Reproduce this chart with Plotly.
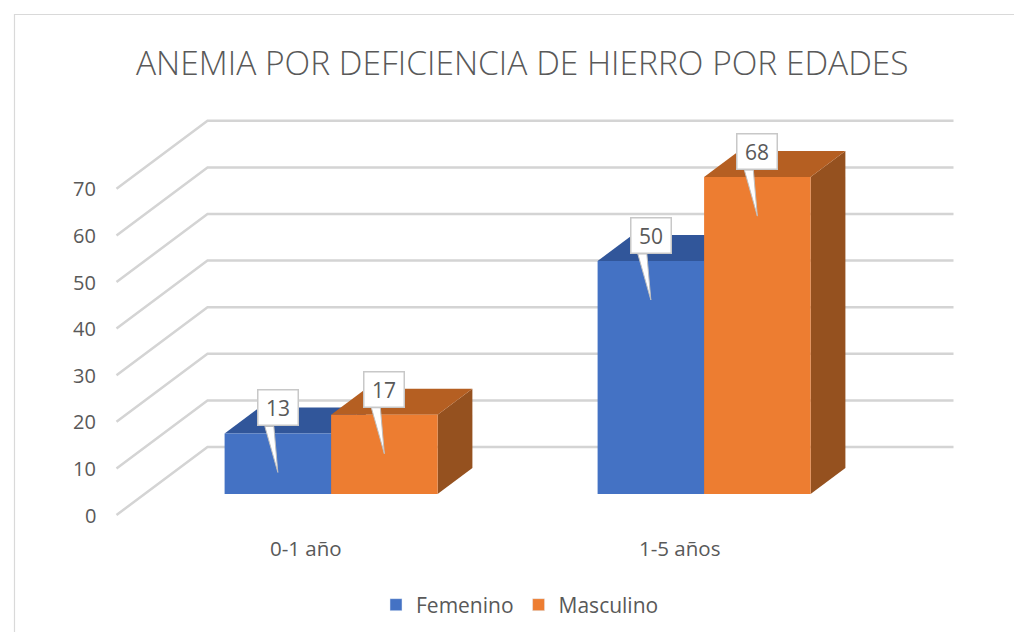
import plotly.graph_objects as go

# ---------------- data ----------------
categories = ["0-1 año", "1-5 años"]
series_names = ["Femenino", "Masculino"]
femenino = [13, 50]
masculino = [17, 68]
y_ticks = [0, 10, 20, 30, 40, 50, 60, 70]
title_text = "ANEMIA POR DEFICIENCIA DE HIERRO POR EDADES"

front_colors = ["#4472C4", "#ED7D31"]
top_colors = ["#31569A", "#B55F22"]
side_colors = ["#2A4A85", "#95511F"]
TEXT = "#595959"
GRID = "#D4D4D4"

# ---------------- projection (oblique 3D) ----------------
W, H = 1014, 632
CAT_PX = 373.0      # pixels per category unit
VAL_PX = 4.66       # pixels per value unit
ORIGIN_X = 303.0    # pixel x of category 0 at front of floor
ORIGIN_Y = 515.0    # pixel y of value 0 at front of floor
DEPTH_DX = 91 / CAT_PX
DEPTH_DY = 68 / VAL_PX
BAR_D0 = 21 / 68
BAR_D1 = 47 / 68
BAR_W = 106.5 / CAT_PX


def px2x(d):
    return d / CAT_PX


def px2y(d):
    return d / VAL_PX


def proj(x, v, d):
    return x + d * DEPTH_DX, v + d * DEPTH_DY


fig = go.Figure()

# ---------------- gridlines ----------------
gx, gy = [], []
x_left, x_right = -0.5, len(categories) - 0.5
for t in y_ticks:
    a = proj(x_left, t, 0)
    b = proj(x_left, t, 1)
    c = proj(x_right, t, 1)
    gx += [a[0], b[0], c[0], None]
    gy += [a[1], b[1], c[1], None]
fig.add_trace(go.Scatter(x=gx, y=gy, mode="lines",
                         line=dict(color=GRID, width=2.5),
                         hoverinfo="skip", showlegend=False))


def poly(pts, color, line_color=None, lw=0):
    xs = [p[0] for p in pts] + [pts[0][0]]
    ys = [p[1] for p in pts] + [pts[0][1]]
    fig.add_trace(go.Scatter(x=xs, y=ys, mode="lines", fill="toself",
                             fillcolor=color,
                             line=dict(color=line_color or color, width=lw),
                             hoverinfo="skip", showlegend=False))


# ---------------- bars ----------------
series = [femenino, masculino]
labels = []
for i, _cat in enumerate(categories):
    for s, vals in enumerate(series):
        v = vals[i]
        x0 = i - BAR_W if s == 0 else i
        x1 = x0 + BAR_W
        side = [proj(x1, 0, BAR_D0), proj(x1, v, BAR_D0),
                proj(x1, v, BAR_D1), proj(x1, 0, BAR_D1)]
        top = [proj(x0, v, BAR_D0), proj(x1, v, BAR_D0),
               proj(x1, v, BAR_D1), proj(x0, v, BAR_D1)]
        front = [proj(x0, 0, BAR_D0), proj(x1, 0, BAR_D0),
                 proj(x1, v, BAR_D0), proj(x0, v, BAR_D0)]
        poly(side, side_colors[s])
        poly(top, top_colors[s])
        poly(front, front_colors[s])
        labels.append(((x0 + x1) / 2, v))

# ---------------- data-label callouts ----------------
annotations = []
for xc, v in labels:
    fx, fy = proj(xc, v, BAR_D0)
    base_y = fy + px2y(7)
    tip = (fx, fy - px2y(39))
    pointer = [(fx - px2x(13), base_y), (fx - px2x(4), base_y), tip]
    poly(pointer, "white", "#BFBFBF", 1)
    annotations.append(dict(
        x=fx, y=fy + px2y(25.5), xref="x", yref="y", text=str(v),
        showarrow=False, bgcolor="white", bordercolor="#C8C8C8",
        borderwidth=1.5, borderpad=0, width=39, height=34,
        font=dict(family="Open Sans", size=21, color=TEXT)))

# ---------------- legend entries ----------------
for s, name in enumerate(series_names):
    fig.add_trace(go.Bar(x=[None], y=[None], name=name,
                         marker=dict(color=front_colors[s])))

# ---------------- axis labels ----------------
for t in y_ticks:
    annotations.append(dict(
        x=px2x(98 - ORIGIN_X), y=t, xref="x", yref="y", text=str(t),
        showarrow=False, xanchor="right", yanchor="middle",
        font=dict(family="Open Sans", size=20, color=TEXT)))
for i, cat in enumerate(categories):
    annotations.append(dict(
        x=i + px2x(3), y=-px2y(548 - ORIGIN_Y), xref="x", yref="y", text=cat,
        showarrow=False, xanchor="center", yanchor="middle",
        font=dict(family="Open Sans", size=20.5, color=TEXT)))

annotations.append(dict(
    x=522 / W, y=1 - 62 / H, xref="paper", yref="paper", text=title_text,
    showarrow=False, xanchor="center", yanchor="middle",
    font=dict(family="Open Sans", size=33.5, weight=300, color=TEXT)))

fig.update_layout(
    width=W, height=H,
    margin=dict(l=0, r=0, t=0, b=0),
    paper_bgcolor="white", plot_bgcolor="white",
    xaxis=dict(range=[-ORIGIN_X / CAT_PX, (W - ORIGIN_X) / CAT_PX],
               visible=False, fixedrange=True),
    yaxis=dict(range=[-(H - ORIGIN_Y) / VAL_PX, ORIGIN_Y / VAL_PX],
               visible=False, fixedrange=True),
    showlegend=True,
    legend=dict(orientation="h", x=520 / W, xanchor="center",
                y=1 - 605 / H, yanchor="middle",
                font=dict(family="Open Sans", size=21, color=TEXT),
                bgcolor="rgba(0,0,0,0)"),
    annotations=annotations,
    shapes=[dict(type="rect", xref="paper", yref="paper",
                 x0=14.5 / W, x1=1.02, y0=-0.02, y1=1 - 14.5 / H,
                 line=dict(color="#D9D9D9", width=1.2))],
)

fig.write_html("out.html", config={"displayModeBar": False},
               post_script="document.body.style.margin='0';")
